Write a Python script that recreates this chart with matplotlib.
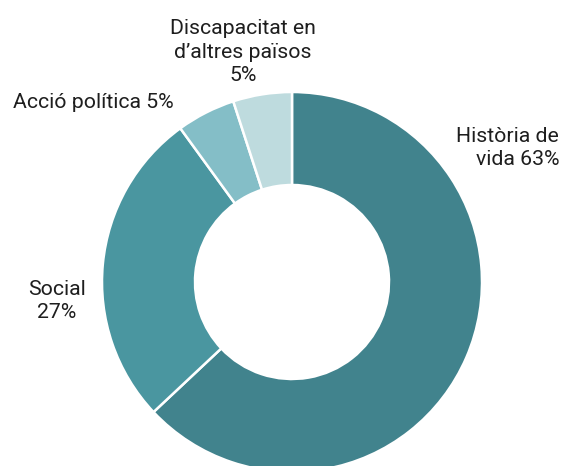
import matplotlib
matplotlib.use("Agg")
import matplotlib.pyplot as plt

categories = ["Història de vida", "Social", "Acció política", "Discapacitat en d'altres països"]
values = [63, 27, 5, 5]
colors = ["#41838D", "#4A96A0", "#84BEC7", "#BEDBDE"]

W, H = 563, 466
fig = plt.figure(figsize=(W / 100, H / 100), dpi=100)
ax = fig.add_axes([0, 0, 1, 1])

cx, cy = 292, H - 282
R = 190
ax.pie(values, colors=colors, startangle=90, counterclock=False,
       center=(cx, cy), radius=R, frame=True,
       wedgeprops=dict(width=R - 97, edgecolor="white", linewidth=1.8))
ax.set_xlim(0, W)
ax.set_ylim(0, H)
ax.set_aspect("equal")
ax.axis("off")

fs = 15.3
kw = dict(fontsize=fs, family="Roboto", color="#1e1e1e", linespacing=1.27)
ax.text(243, H - 52, "Discapacitat en\nd\u2019altres països\n5%", ha="center", va="center", **kw)
ax.text(93, H - 103, "Acció política 5%", ha="center", va="center", **kw)
ax.text(559, H - 148, "Història de\nvida 63%", ha="right", va="center", multialignment="right", **kw)
ax.text(57, H - 301, "Social\n27%", ha="center", va="center", **kw)

fig.savefig("out.png", dpi=100)
